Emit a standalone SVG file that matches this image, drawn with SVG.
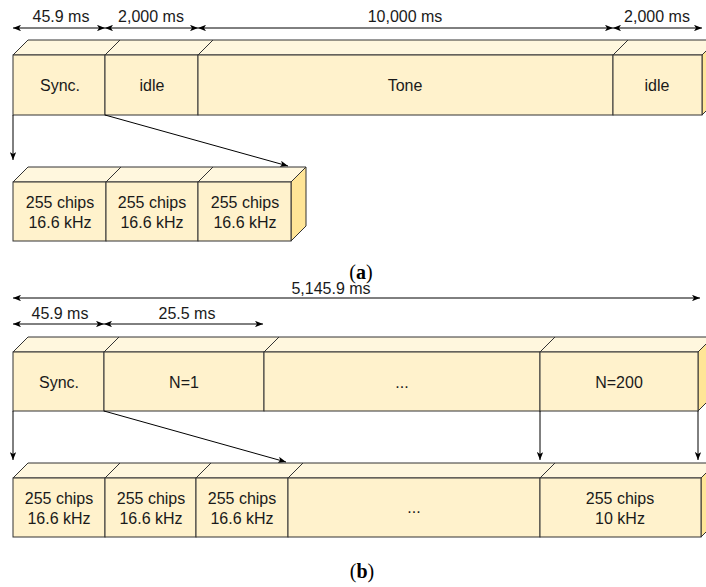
<svg xmlns="http://www.w3.org/2000/svg" width="706" height="587" viewBox="0 0 706 587">
<style>
  .front{fill:#fff2cc;stroke:#333;stroke-width:1}
  .top{fill:#fff7de;stroke:#333;stroke-width:1}
  .side{fill:#ffe597;stroke:#333;stroke-width:1}
  .edge{stroke:#333;stroke-width:1;fill:none}
  text{font-family:"Liberation Sans",Arial,sans-serif;font-size:16px;fill:#1a1a1a;text-anchor:middle}
  .lbl{font-family:"Liberation Serif","Times New Roman",serif;font-size:20px;fill:#000}
  .dim{stroke:#000;stroke-width:1;fill:none;marker-start:url(#ah);marker-end:url(#ah)}
  .one{stroke:#000;stroke-width:1;fill:none;marker-end:url(#ah)}
</style>
<defs>
  <marker id="ah" viewBox="0 0 10 8" refX="10" refY="4" markerWidth="8" markerHeight="6.4" markerUnits="userSpaceOnUse" orient="auto-start-reverse">
    <path d="M0,0 L10,4 L0,8 L2.5,4 Z" fill="#000"/>
  </marker>
</defs>

<!-- Dimension lines -->
<g id="dimensions">
  <line class="dim" x1="13" y1="28" x2="105" y2="28"/>
  <line class="dim" x1="105" y1="28" x2="198" y2="28"/>
  <line class="dim" x1="198" y1="28" x2="613" y2="28"/>
  <line class="dim" x1="613" y1="28" x2="702" y2="28"/>
  <text x="61" y="22">45.9 ms</text>
  <text x="151" y="22">2,000 ms</text>
  <text x="405" y="22">10,000 ms</text>
  <text x="657" y="22">2,000 ms</text>

  <line class="dim" x1="13" y1="298" x2="700" y2="298"/>
  <text x="331" y="294">5,145.9 ms</text>
  <line class="dim" x1="13" y1="324" x2="104" y2="324"/>
  <line class="dim" x1="104" y1="324" x2="263" y2="324"/>
  <text x="60" y="319">45.9 ms</text>
  <text x="187" y="319">25.5 ms</text>
</g>

<!-- Row (a) top -->
<g id="rowA_top">
  <polygon class="top" points="13,55 28,40 717,40 702,55"/>
  <polygon class="side" points="702,55 717,40 717,100 702,115"/>
  <g id="a_sync"><rect class="front" x="13" y="55" width="92" height="60"/><text x="60" y="91">Sync.</text></g>
  <g id="a_idle1"><rect class="front" x="105" y="55" width="93" height="60"/><line class="edge" x1="105" y1="55" x2="120" y2="40"/><text x="152" y="91">idle</text></g>
  <g id="a_tone"><rect class="front" x="198" y="55" width="415" height="60"/><line class="edge" x1="198" y1="55" x2="213" y2="40"/><text x="405" y="91">Tone</text></g>
  <g id="a_idle2"><rect class="front" x="613" y="55" width="89" height="60"/><line class="edge" x1="613" y1="55" x2="628" y2="40"/><text x="657" y="91">idle</text></g>
</g>

<!-- Row (a) bottom -->
<g id="rowA_bottom">
  <polygon class="top" points="13,182 28,167 306,167 291,182"/>
  <polygon class="side" points="291,182 306,167 306,226 291,241"/>
  <g id="a_chip1"><rect class="front" x="13" y="182" width="93" height="59"/><text x="60" y="208">255 chips</text><text x="60" y="228">16.6 kHz</text></g>
  <g id="a_chip2"><rect class="front" x="106" y="182" width="92" height="59"/><line class="edge" x1="106" y1="182" x2="121" y2="167"/><text x="152" y="208">255 chips</text><text x="152" y="228">16.6 kHz</text></g>
  <g id="a_chip3"><rect class="front" x="198" y="182" width="93" height="59"/><line class="edge" x1="198" y1="182" x2="213" y2="167"/><text x="245" y="208">255 chips</text><text x="245" y="228">16.6 kHz</text></g>
</g>

<!-- Row (b) top -->
<g id="rowB_top">
  <polygon class="top" points="13,352 28,337 713,337 698,352"/>
  <polygon class="side" points="698,352 713,337 713,396 698,411"/>
  <g id="b_sync"><rect class="front" x="13" y="352" width="91" height="59"/><text x="59" y="388">Sync.</text></g>
  <g id="b_n1"><rect class="front" x="104" y="352" width="160" height="59"/><line class="edge" x1="104" y1="352" x2="119" y2="337"/><text x="184" y="388">N=1</text></g>
  <g id="b_dots"><rect class="front" x="264" y="352" width="276" height="59"/><line class="edge" x1="264" y1="352" x2="279" y2="337"/><text x="402" y="388">...</text></g>
  <g id="b_n200"><rect class="front" x="540" y="352" width="158" height="59"/><line class="edge" x1="540" y1="352" x2="555" y2="337"/><text x="619" y="388">N=200</text></g>
</g>

<!-- Row (b) bottom -->
<g id="rowB_bottom">
  <polygon class="top" points="13,478 28,463 716,463 701,478"/>
  <polygon class="side" points="701,478 716,463 716,522 701,537"/>
  <g id="b_chip1"><rect class="front" x="13" y="478" width="92" height="59"/><text x="59" y="504">255 chips</text><text x="59" y="524">16.6 kHz</text></g>
  <g id="b_chip2"><rect class="front" x="105" y="478" width="91" height="59"/><line class="edge" x1="105" y1="478" x2="120" y2="463"/><text x="151" y="504">255 chips</text><text x="151" y="524">16.6 kHz</text></g>
  <g id="b_chip3"><rect class="front" x="196" y="478" width="92" height="59"/><line class="edge" x1="196" y1="478" x2="211" y2="463"/><text x="242" y="504">255 chips</text><text x="242" y="524">16.6 kHz</text></g>
  <g id="b_dots2"><rect class="front" x="288" y="478" width="252" height="59"/><line class="edge" x1="288" y1="478" x2="303" y2="463"/><text x="414" y="513">...</text></g>
  <g id="b_chip10"><rect class="front" x="540" y="478" width="161" height="59"/><line class="edge" x1="540" y1="478" x2="555" y2="463"/><text x="620" y="504">255 chips</text><text x="620" y="524">10 kHz</text></g>
</g>

<!-- Connectors -->
<g id="connectors">
  <line class="one" x1="13" y1="115" x2="13" y2="160"/>
  <line class="one" x1="105" y1="115" x2="288" y2="166"/>
  <line class="one" x1="13" y1="411" x2="13" y2="460"/>
  <line class="one" x1="104" y1="411" x2="286" y2="462"/>
  <line class="one" x1="540" y1="411" x2="540" y2="460"/>
  <line class="one" x1="698" y1="411" x2="698" y2="460"/>
</g>

<!-- Captions -->
<text class="lbl" x="361" y="279">(<tspan font-weight="bold">a</tspan>)</text>
<text class="lbl" x="362" y="578">(<tspan font-weight="bold">b</tspan>)</text>
</svg>
